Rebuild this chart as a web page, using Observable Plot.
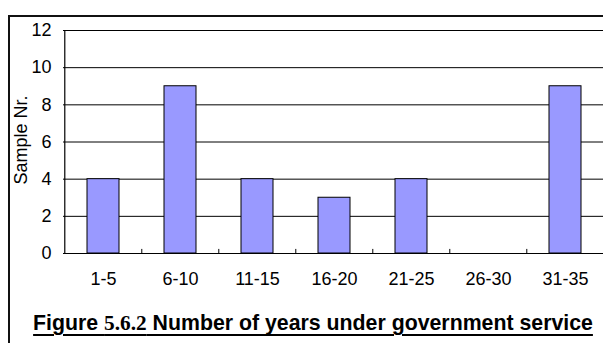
<!DOCTYPE html>
<html>
<head>
<meta charset="utf-8">
<script src="https://cdn.jsdelivr.net/npm/d3@7"></script>
<script src="https://cdn.jsdelivr.net/npm/@observablehq/plot@0.6"></script>
<style>
  html, body { margin: 0; padding: 0; background: #fff; }
  #page { position: relative; width: 603px; height: 343px; overflow: hidden; background: #fff;
          font-family: "Liberation Sans", Arial, sans-serif; }
  #border { position: absolute; left: 8px; top: 15px; width: 800px; height: 600px;
            border-top: 2px solid #111; border-left: 2px solid #111; box-sizing: border-box; }
  #chart { position: absolute; left: 0; top: 0; }
  #chart svg text { font-size: 18px; }
  #title { position: absolute; left: 0; width: 626px; top: 311px; text-align: center;
           font-size: 21.3px; font-weight: bold; color: #000; white-space: nowrap;
           text-decoration: underline; text-decoration-thickness: 2px; text-underline-offset: 4px; }
  #title .num { font-family: "Liberation Serif", "Times New Roman", serif; }
</style>
</head>
<body>
<div id="page">
  <div id="border"></div>
  <div id="chart"></div>
  <div id="title"></div>
</div>
<script>
// Years of government service (grouped) and number of respondents in each group
const categories = ["1-5", "6-10", "11-15", "16-20", "21-25", "26-30", "31-35"];
const counts = [4, 9, 4, 3, 4, 0, 9];
const yTicks = [0, 2, 4, 6, 8, 10, 12];
const yLabel = "Sample Nr.";
const titlePrefix = "Figure ";
const titleNumber = "5.6.2";
const titleText = " Number of years under government service";

const data = categories.map((c, i) => ({group: c, count: counts[i]}));

// Layout of the plotting area (the last band runs past the right edge)
const left = 63, right = 605;
const step = (right - left) / categories.length;

const chart = Plot.plot({
  width: 603,
  height: 300,
  marginLeft: left,
  marginRight: 0,
  marginTop: 30,
  marginBottom: 47,
  style: {fontFamily: "'Liberation Sans', Arial, sans-serif", fontSize: "18px", color: "#000", background: "transparent"},
  x: {type: "band", domain: categories, range: [left, right], paddingInner: 0.59, paddingOuter: 0.28},
  y: {domain: [0, 12]},
  marks: [
    Plot.gridY(yTicks.filter(d => d > 0), {stroke: "#000", strokeOpacity: 1, strokeWidth: 1}),
    Plot.barY(data, {x: "group", y: "count", fill: "#9999FF", stroke: "#000", strokeWidth: 1}),
    Plot.ruleY([0], {stroke: "#000", strokeWidth: 1.2}),
    // left axis line
    Plot.ruleX([categories[0]], {x: d => d, dx: -step / 2, stroke: "#000", strokeWidth: 1.2}),
    // small ticks on the category boundaries
    Plot.ruleX(categories.slice(1), {x: d => d, dx: -step / 2, y1: 0, y2: 0.22, stroke: "#000", strokeWidth: 1}),
    Plot.axisY({ticks: yTicks, tickSize: 0, tickPadding: 12, fontSize: 18, label: null}),
    Plot.axisX({tickSize: 0, tickPadding: 19, fontSize: 18, label: null}),
    Plot.text([yLabel], {frameAnchor: "left", textAnchor: "middle", dx: -42, dy: -2, rotate: -90, fontSize: 18, fill: "#000"})
  ]
});
document.getElementById("chart").appendChild(chart);

const title = document.getElementById("title");
title.append(titlePrefix);
const num = document.createElement("span");
num.className = "num";
num.textContent = titleNumber;
title.append(num, titleText);
</script>
</body>
</html>
